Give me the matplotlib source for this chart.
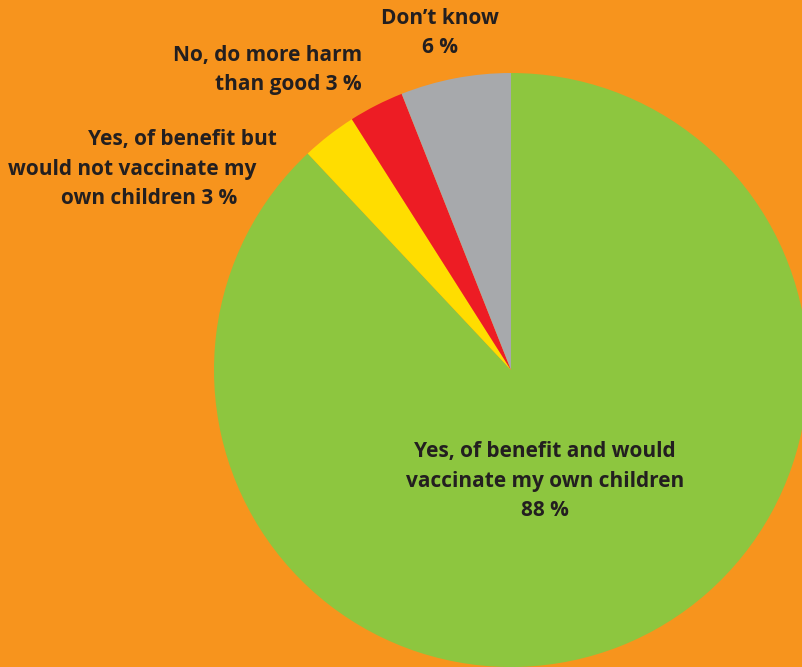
import matplotlib.pyplot as plt

answers = ["Yes, of benefit and would\nvaccinate my own children\n88 %",
           "Yes, of benefit but\nwould not vaccinate my\nown children 3 %",
           "No, do more harm\nthan good 3 %",
           "Don\u2019t know\n6 %"]
shares = [88, 3, 3, 6]
colors = ["#8DC63F", "#FFDD00", "#ED1C24", "#A7A9AC"]

bg = "#F7941D"
ink = "#231F20"

fig = plt.figure(figsize=(8.02, 6.67), dpi=100, facecolor=bg)
ax = fig.add_axes([0, 0, 1, 1])
ax.set_facecolor(bg)

# pie centre at (511, 370) px, radius 297 px
R = 297.0
cx, cy = 511.0, 370.0

ax.pie(shares, colors=colors, startangle=90, counterclock=False,
       radius=1, center=(0, 0), wedgeprops=dict(linewidth=0))
ax.set_xlim(-cx / R, (802 - cx) / R)
ax.set_ylim(-(667 - cy) / R, cy / R)
ax.set_aspect("auto")
ax.axis("off")


def px(x, y):
    return (x - cx) / R, (cy - y) / R


font = dict(family="Open Sans", weight="bold", fontsize=15, color=ink,
            linespacing=1.52)

ax.text(*px(545, 481), answers[0], ha="center", va="center", **font)

# ragged right edges on the left-hand label
for line, right, y in zip(answers[1].split("\n"), [277, 256, 237], [140, 170, 199]):
    ax.text(*px(right, y), line, ha="right", va="center", **font)

ax.text(*px(362, 70), answers[2], ha="right", va="center", multialignment="right", **font)
ax.text(*px(440, 33), answers[3], ha="center", va="center", **font)

fig.savefig("out.png", dpi=100, facecolor=bg)
